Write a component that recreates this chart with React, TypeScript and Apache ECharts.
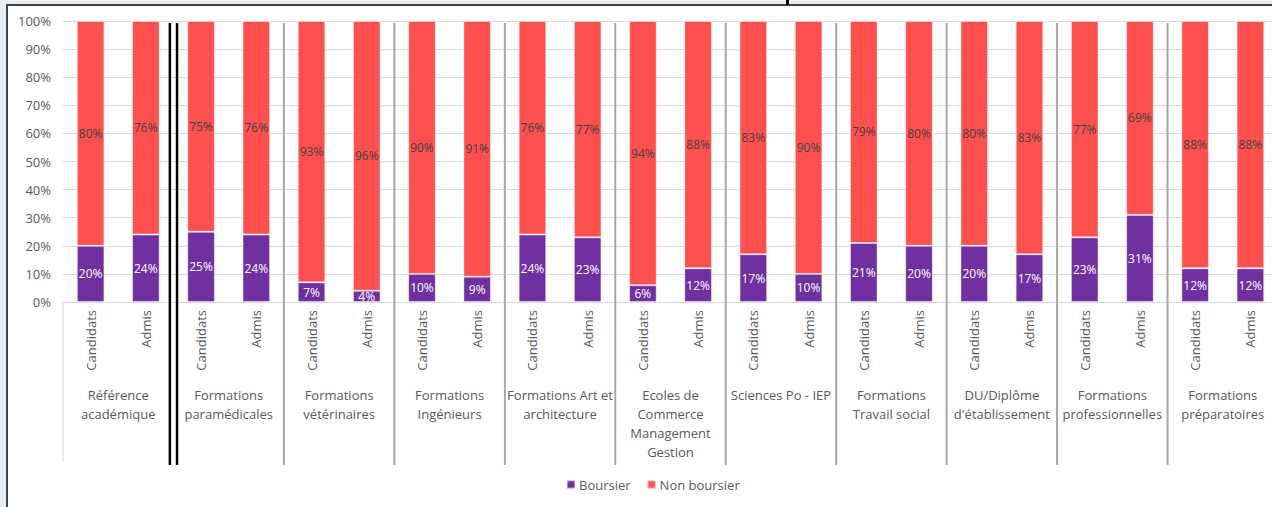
import React, { useEffect, useRef } from "react";
import * as echarts from "echarts";

const groups = [
  "Référence\nacadémique",
  "Formations\nparamédicales",
  "Formations\nvétérinaires",
  "Formations\nIngénieurs",
  "Formations Art et\narchitecture",
  "Ecoles de\nCommerce\nManagement\nGestion",
  "Sciences Po - IEP",
  "Formations\nTravail social",
  "DU/Diplôme\nd'établissement",
  "Formations\nprofessionnelles",
  "Formations\npréparatoires",
];

const subLabels = groups.flatMap(() => ["Candidats", "Admis"]);

const boursier = [20, 24, 25, 24, 7, 4, 10, 9, 24, 23, 6, 12, 17, 10, 21, 20, 20, 17, 23, 31, 12, 12];
const nonBoursier = [80, 76, 75, 76, 93, 96, 90, 91, 76, 77, 94, 88, 83, 90, 79, 80, 80, 83, 77, 69, 88, 88];

const yTicks = [0, 10, 20, 30, 40, 50, 60, 70, 80, 90, 100];

const FONT = "'Open Sans', sans-serif";
const TEXT = "#595959";

export default function App() {
  const ref = useRef<HTMLDivElement>(null);

  useEffect(() => {
    if (!ref.current) return;
    const chart = echarts.init(ref.current, null, { renderer: "svg" });
    chart.setOption({
      animation: false,
      textStyle: { fontFamily: FONT },
      grid: { left: 63, top: 21, bottom: 205, right: 12, containLabel: false },
      legend: {
        data: ["Boursier", "Non boursier"],
        left: 561,
        top: 473,
        itemWidth: 8,
        itemHeight: 8,
        itemGap: 16,
        icon: "rect",
        textStyle: { fontSize: 13, color: TEXT, fontFamily: FONT, padding: [0, 0, 0, -1] },
      },
      xAxis: [
        {
          type: "category",
          data: subLabels,
          position: "bottom",
          axisLine: { show: true, lineStyle: { color: "#d9d9d9", width: 1 } },
          axisTick: { show: false },
          axisLabel: {
            interval: 0,
            rotate: 90,
            margin: 8,
            fontSize: 13,
            color: TEXT,
            fontFamily: FONT,
          },
          splitLine: { show: false },
        },
        {
          type: "category",
          data: groups,
          position: "bottom",
          axisLine: { show: false },
          axisTick: { show: false },
          axisLabel: {
            interval: 0,
            margin: 83,
            fontSize: 13,
            lineHeight: 19,
            color: TEXT,
            fontFamily: FONT,
            align: "center",
            verticalAlign: "top",
          },
          splitLine: { show: false },
        },
      ],
      yAxis: {
        type: "value",
        min: yTicks[0],
        max: yTicks[yTicks.length - 1],
        interval: 10,
        axisLine: { show: false },
        axisTick: { show: false },
        axisLabel: {
          formatter: "{value}%",
          fontSize: 13,
          color: TEXT,
          margin: 12,
          fontFamily: FONT,
        },
        splitLine: { lineStyle: { color: "#d9d9d9", width: 1 } },
      },
      series: [
        {
          name: "Boursier",
          type: "bar",
          stack: "total",
          xAxisIndex: 0,
          data: boursier,
          barWidth: "50%",
          itemStyle: { color: "#7030A0", borderColor: "rgba(255,255,255,0.45)", borderWidth: 1 },
          label: {
            show: true,
            position: "inside",
            formatter: "{c}%",
            color: "#ffffff",
            fontSize: 12,
            fontFamily: FONT,
          },
        },
        {
          name: "Non boursier",
          type: "bar",
          stack: "total",
          xAxisIndex: 0,
          data: nonBoursier,
          barWidth: "50%",
          itemStyle: { color: "#FF5050", borderColor: "rgba(255,255,255,0.45)", borderWidth: 1 },
          label: {
            show: true,
            position: "inside",
            formatter: "{c}%",
            color: "#404040",
            fontSize: 12,
            fontFamily: FONT,
          },
        },
      ],
    });

    // Group separators derived from the axis scale
    const px = (i: number) => chart.convertToPixel({ xAxisIndex: 0 }, i) as number;
    const yTop = (chart.convertToPixel({ yAxisIndex: 0 }, 100) as number) + 2;
    const yBase = chart.convertToPixel({ yAxisIndex: 0 }, 0) as number;
    const yEnd = 465;
    const half = (px(1) - px(0)) / 2;
    const elements: any[] = [];
    elements.push({
      type: "line",
      shape: { x1: px(0) - half, y1: yBase, x2: px(0) - half, y2: yEnd - 3 },
      style: { stroke: "#d9d9d9", lineWidth: 1 },
      z: 10,
    });
    for (let k = 1; k < groups.length; k++) {
      const x = (px(2 * k - 1) + px(2 * k)) / 2;
      if (k === 1) {
        [-3.6, 3.6].forEach((d) =>
          elements.push({
            type: "line",
            shape: { x1: x + d, y1: yTop, x2: x + d, y2: yEnd },
            style: { stroke: "#000000", lineWidth: 2.5 },
            z: 10,
          })
        );
      } else {
        elements.push({
          type: "line",
          shape: { x1: x, y1: yTop, x2: x, y2: yEnd },
          style: { stroke: "#a6a6a6", lineWidth: 2 },
          z: 10,
        });
      }
    }
    // fragment of the clipped title above the frame
    elements.push({
      type: "rect",
      shape: { x: 786, y: 0, width: 3, height: 5 },
      style: { fill: "#000000" },
      z: 10,
    });
    chart.setOption({ graphic: { elements } });

    return () => chart.dispose();
  }, []);

  return (
    <div
      style={{
        position: "fixed",
        left: 0,
        top: 0,
        width: 1272,
        height: 507,
        background: "#e9edf5",
        overflow: "hidden",
      }}
    >
      <div
        style={{
          position: "absolute",
          left: 6,
          top: 4,
          width: 1320,
          height: 620,
          background: "#ffffff",
          border: "2px solid #444444",
          boxSizing: "border-box",
        }}
      />
      <div
        ref={ref}
        style={{ position: "absolute", left: 0, top: 0, width: 1290, height: 507 }}
      />
    </div>
  );
}
